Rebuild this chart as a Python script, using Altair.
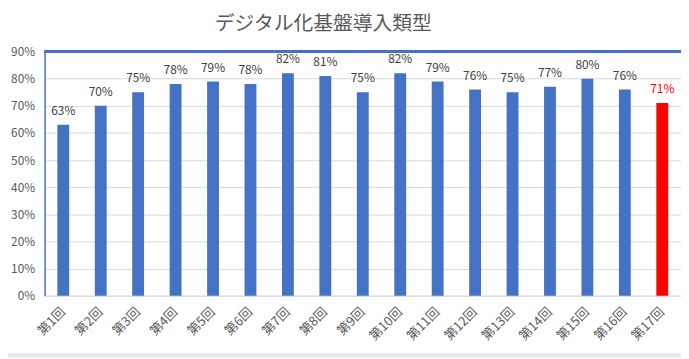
import altair as alt
import pandas as pd

categories = [f"第{i}回" for i in range(1, 18)]
values = [63, 70, 75, 78, 79, 78, 82, 81, 75, 82, 79, 76, 75, 77, 80, 76, 71]
colors = ["#4472C4"] * 16 + ["#FF0000"]
label_colors = ["#404040"] * 16 + ["#FF0000"]

df = pd.DataFrame({
    "cat": categories,
    "val": [v / 100 for v in values],
    "color": colors,
    "lcolor": label_colors,
    "label": [f"{v}%" for v in values],
})

W, H = 644, 247
FONT = "Noto Sans CJK JP"

x = alt.X("cat:N", sort=categories, title=None,
          scale=alt.Scale(paddingInner=0, paddingOuter=0),
          axis=alt.Axis(labelAngle=-45, labelAlign="right", labelBaseline="middle",
                        labelPadding=14, labelFontSize=13, labelColor="#595959",
                        labelFont=FONT, ticks=False, domainColor="#d9d9d9",
                        labelOverlap=False, grid=False))
y = alt.Y("val:Q", title=None,
          scale=alt.Scale(domain=[0, 0.9], nice=False),
          axis=alt.Axis(format=".0%", values=[i / 10 for i in range(10)],
                        labelFontSize=12, labelColor="#595959", labelFont=FONT,
                        labelPadding=10, ticks=False, domainColor="#4472C4",
                        gridColor="#d9d9d9", domainWidth=1.5, grid=True,
                        labelOverlap=False))

bars = alt.Chart(df).mark_bar(size=12).encode(
    x=x, y=y, color=alt.Color("color:N", scale=None)
)
text = alt.Chart(df).mark_text(dy=-14, fontSize=12, font=FONT).encode(
    x=x, y=y, text="label:N",
    color=alt.Color("lcolor:N", scale=None)
)
top_rule = alt.Chart(df).mark_rule(color="#4472C4", strokeWidth=1.5).encode(
    x=alt.value(0), x2=alt.value(W), y=alt.value(0)
)
strip = alt.Chart(df).mark_rect(color="#e8e8e8", clip=False).encode(
    x=alt.value(-37), x2=alt.value(W), y=alt.value(305), y2=alt.value(309)
)

chart = alt.layer(bars, text, top_rule, strip).properties(
    width=W, height=H,
    autosize=alt.AutoSizeParams(type="none"),
    padding={"left": 37, "top": 42, "right": 0, "bottom": 62},
    title=alt.Title("デジタル化基盤導入類型", fontSize=20, font=FONT, fontWeight="normal",
                    color="#595959", anchor="middle", dx=-40, offset=12),
).configure_view(stroke=None)

chart.save("out.html", embed_options={"renderer": "svg", "actions": False})
